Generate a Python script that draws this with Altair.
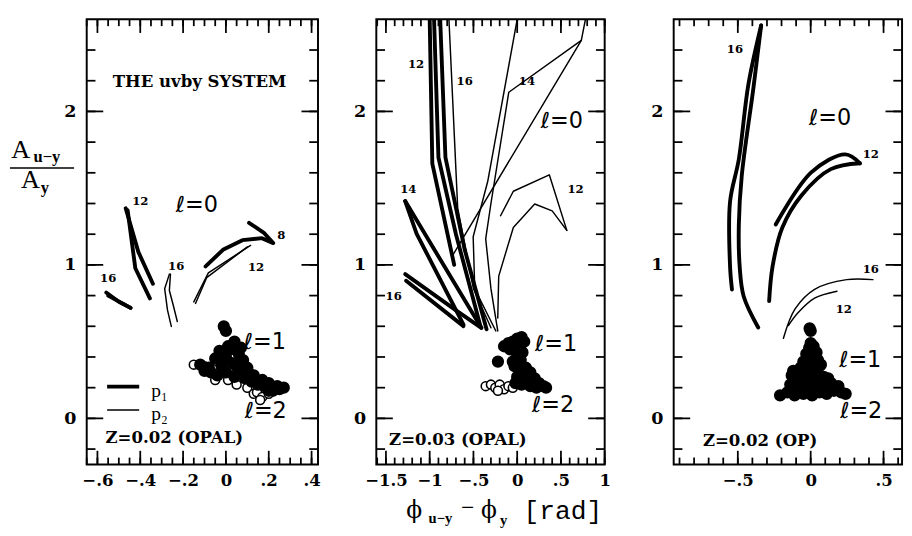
import altair as alt
import numpy as np
import pandas as pd

SERIF = "DejaVu Serif"
SANS = "DejaVu Sans"
TIMES = "Liberation Serif"
MONO = "Liberation Mono"
H = 458
TICK_COLOR = "black"

# ---------------- axis tick labels ----------------
y_labels = [0, 1, 2]
p1_xlabels = [-0.6, -0.4, -0.2, 0, 0.2, 0.4]
p2_xlabels = [-1.5, -1, -0.5, 0, 0.5, 1]
p3_xlabels = [-0.5, 0, 0.5]

# ---------------- panel 1 : Z=0.02 (OPAL) ----------------
p1_curves = {
    "a12": ("p1", [-0.468, -0.409, -0.341], [1.369, 1.085, 0.877]),
    "b12": ("p1", [-0.459, -0.423, -0.355], [1.356, 0.978, 0.782]),
    "c16": ("p1", [-0.559, -0.50, -0.445], [0.82, 0.76, 0.72]),
    "d16": ("p1", [-0.55, -0.445], [0.80, 0.72]),
    "e8": ("p1", [-0.095, -0.014, 0.077, 0.168, 0.221, 0.176, 0.108],
           [0.99, 1.098, 1.161, 1.174, 1.142, 1.211, 1.274]),
    "f16": ("p2", [-0.264, -0.286, -0.273, -0.255], [0.94, 0.845, 0.707, 0.599]),
    "g16": ("p2", [-0.259, -0.264, -0.245, -0.227], [0.94, 0.833, 0.732, 0.631]),
    "h12": ("p2", [0.115, -0.082, -0.15], [1.127, 0.948, 0.759]),
    "i12": ("p2", [0.10, -0.09, -0.142], [1.117, 0.917, 0.749]),
}
p1_filled_x = [-0.01, 0.00, 0.04, 0.02, -0.03, 0.06, 0.00, -0.05, 0.08, 0.03, -0.02, 0.10, 0.06,
               0.00, -0.08, -0.12, 0.13, 0.17, 0.20, 0.24, 0.27, 0.22, 0.15, 0.09, 0.04, -0.04,
               0.01, 0.05, -0.07, 0.11, 0.18, 0.25, 0.07, -0.10, 0.12, 0.20]
p1_filled_y = [0.60, 0.57, 0.50, 0.45, 0.44, 0.42, 0.40, 0.39, 0.38, 0.36, 0.34, 0.33, 0.31,
               0.30, 0.33, 0.35, 0.28, 0.25, 0.23, 0.21, 0.20, 0.18, 0.22, 0.26, 0.27, 0.28,
               0.47, 0.34, 0.30, 0.29, 0.21, 0.19, 0.46, 0.31, 0.24, 0.18]
p1_open_x = [-0.15, -0.12, -0.10, -0.06, -0.02, 0.03, -0.05, 0.01, 0.05, 0.10, 0.13, 0.145,
             0.17, 0.20, 0.24, 0.27, 0.22, 0.16]
p1_open_y = [0.35, 0.35, 0.34, 0.32, 0.30, 0.28, 0.25, 0.25, 0.22, 0.20, 0.16, 0.17,
             0.14, 0.16, 0.20, 0.20, 0.19, 0.12]
p1_nums = [("12", -0.40, 1.413), ("8", 0.259, 1.192), ("16", -0.55, 0.915),
           ("16", -0.232, 0.99), ("12", 0.141, 0.984)]
p1_ells = [("ℓ=0", -0.136, 1.388), ("ℓ=1", 0.182, 0.498), ("ℓ=2", 0.186, 0.044)]
p1_notes = [("THE uvby SYSTEM", -0.123, 2.189), ("Z=0.02 (OPAL)", -0.241, -0.132)]

# ---------------- panel 2 : Z=0.03 (OPAL) ----------------
p2_curves = {
    "k1": ("p1", [-1.0, -0.97, -0.72], [2.6, 1.66, 1.0]),
    "k2": ("p1", [-0.95, -0.90, -0.70, -0.42], [2.6, 1.70, 1.20, 0.60]),
    "k3": ("p1", [-0.88, -0.82, -0.60, -0.35], [2.6, 1.70, 1.10, 0.58]),
    "k4": ("p1", [-1.28, -1.15, -0.614], [1.416, 1.204, 0.611]),
    "k5": ("p1", [-1.28, -0.41], [1.416, 0.59]),
    "k6": ("p1", [-1.28, -0.707, -0.41], [0.94, 0.707, 0.59]),
    "k7": ("p1", [-1.27, -0.614], [0.897, 0.601]),
    "t16": ("p2", [-0.78, -0.68, -0.50, -0.30], [2.6, 1.37, 0.845, 0.59]),
    "ta": ("p2", [0.0, -0.337, -0.503, -0.485, -0.244], [2.6, 1.543, 1.183, 0.844, 0.569]),
    "tb": ("p2", [0.78, 0.733, -0.096, -0.30, -0.36, -0.30, -0.222],
           [2.6, 2.463, 2.125, 1.40, 1.17, 0.845, 0.57]),
    "tc": ("p2", [0.733, -0.744], [2.463, 1.056]),
    "tu12": ("p2", [-0.19, -0.044, 0.367, 0.567], [1.32, 1.48, 1.587, 1.225]),
    "tl12": ("p2", [-0.222, -0.211, -0.044, 0.20, 0.40, 0.567],
             [0.654, 0.927, 1.244, 1.397, 1.352, 1.225]),
}
p2_filled_x = [-0.22, -0.15, -0.10, -0.05, 0.00, 0.05, 0.08, 0.03, -0.02, -0.08, 0.06, 0.00,
               -0.05, -0.03, 0.04,
               0.10, 0.05, 0.15, 0.00, 0.10, 0.20, 0.25, 0.30, 0.05, 0.15, 0.22, -0.02, 0.33]
p2_filled_y = [0.37, 0.47, 0.49, 0.50, 0.52, 0.53, 0.50, 0.46, 0.44, 0.45, 0.43, 0.40,
               0.37, 0.34, 0.38,
               0.33, 0.30, 0.30, 0.27, 0.27, 0.26, 0.23, 0.21, 0.22, 0.21, 0.20, 0.23, 0.20]
p2_open_x = [-0.36, -0.30, -0.25, -0.20, -0.15, -0.10, -0.05, -0.22]
p2_open_y = [0.21, 0.22, 0.20, 0.22, 0.19, 0.21, 0.20, 0.18]
p2_nums = [("12", -1.156, 2.305), ("16", -0.60, 2.197), ("14", 0.111, 2.197),
           ("12", 0.667, 1.492), ("14", -1.244, 1.492), ("16", -1.411, 0.794)]
p2_ells = [("ℓ=0", 0.511, 1.937), ("ℓ=1", 0.444, 0.483), ("ℓ=2", 0.411, 0.083)]
p2_notes = [("Z=0.03 (OPAL)", -0.678, -0.14)]

# ---------------- panel 3 : Z=0.02 (OP) ----------------
p3_curves = {
    "a16": ("p1", [-0.34, -0.427, -0.493, -0.553, -0.553, -0.54],
            [2.56, 2.178, 1.688, 1.414, 0.987, 0.84]),
    "b16": ("p1", [-0.34, -0.393, -0.473, -0.493, -0.487, -0.46, -0.36],
            [2.56, 2.153, 1.58, 1.261, 0.987, 0.796, 0.592]),
    "u12": ("p1", [-0.24, 0.004, 0.238, 0.338], [1.263, 1.603, 1.72, 1.662]),
    "l12": ("p1", [0.338, 0.138, -0.062, -0.195, -0.262, -0.285],
            [1.662, 1.624, 1.454, 1.242, 0.987, 0.764]),
    "t16": ("p2", [0.427, 0.247, 0.027, -0.107, -0.187], [0.904, 0.904, 0.841, 0.713, 0.522]),
    "t12": ("p2", [0.18, 0.027, -0.087, -0.153], [0.828, 0.783, 0.688, 0.605]),
}
p3_filled_x = [-0.007, 0.0,
               -0.21, -0.16, -0.11, -0.05, 0.01, 0.06, 0.11, 0.16, 0.21, 0.24,
               -0.14, -0.10, -0.06, -0.01, 0.04, 0.09, 0.14, 0.19,
               -0.13, -0.09, -0.02, 0.04, 0.09, 0.12,
               -0.12, -0.07, -0.03, 0.03, 0.06,
               -0.05, 0.00, 0.05, 0.07,
               -0.03, 0.02, 0.04,
               -0.01, 0.02, 0.00]
p3_filled_y = [0.586, 0.57,
               0.15, 0.17, 0.15, 0.16, 0.15, 0.17, 0.16, 0.18, 0.17, 0.16,
               0.22, 0.20, 0.23, 0.21, 0.22, 0.20, 0.23, 0.21,
               0.28, 0.26, 0.27, 0.25, 0.27, 0.26,
               0.31, 0.33, 0.30, 0.32, 0.34,
               0.37, 0.36, 0.38, 0.35,
               0.42, 0.40, 0.43,
               0.46, 0.47, 0.49]
p3_open_x = []
p3_open_y = []
p3_nums = [("16", -0.52, 2.408), ("12", 0.413, 1.72), ("16", 0.413, 0.975), ("12", 0.227, 0.713)]
p3_ells = [("ℓ=0", 0.133, 1.955), ("ℓ=1", 0.34, 0.382), ("ℓ=2", 0.347, 0.045)]
p3_notes = [("Z=0.02 (OP)", -0.347, -0.146)]

LBL = "replace(replace(format(datum.value, '~g'), '0.', '.'), '-', '−')"


def lines_df(curves):
    rows = []
    for cid, (kind, xs, ys) in curves.items():
        for i, (x, y) in enumerate(zip(xs, ys)):
            rows.append({"cid": cid, "kind": kind, "i": i, "x": x, "y": y})
    return pd.DataFrame(rows)


def one(t):
    return pd.DataFrame({"t": [t]})


def panel(W, xdom, xlabels, xminor, xmajor, curves, interp, filled, opened,
          nums, ells, notes, extras):
    ydom = [-0.3, 2.6]

    def xs():
        return alt.Scale(domain=xdom, nice=False, zero=False)

    def ys():
        return alt.Scale(domain=ydom, nice=False, zero=False)

    xaxis = alt.Axis(values=xlabels, labelExpr=LBL, title=None, ticks=False, domain=False,
                     grid=False, labelFont=SERIF, labelFontWeight="bold", labelFontSize=17,
                     labelPadding=9, labelColor="black", labelFlush=False, labelOverlap=False)
    yaxis = alt.Axis(values=y_labels, title=None, ticks=False, domain=False, grid=False,
                     labelFont=SERIF, labelFontWeight="bold", labelFontSize=18,
                     labelPadding=11, labelColor="black", labelFlush=False)

    def X(f):
        return alt.X(f, type="quantitative", scale=xs(), axis=None)

    def Y(f):
        return alt.Y(f, type="quantitative", scale=ys(), axis=None)

    layers = []
    layers.append(
        alt.Chart(pd.DataFrame({"x": [xdom[0], xdom[1]], "y": [ydom[0], ydom[1]]}))
        .mark_point(opacity=0, size=1)
        .encode(x=alt.X("x:Q", scale=xs(), axis=xaxis), y=alt.Y("y:Q", scale=ys(), axis=yaxis))
    )
    layers.append(
        alt.Chart(lines_df(curves)).mark_line(
            color="black", clip=True, strokeCap="round", strokeJoin="round", interpolate=interp
        ).encode(
            x=X("x"), y=Y("y"),
            detail="cid:N", order="i:Q",
            strokeWidth=alt.StrokeWidth("kind:N", scale=alt.Scale(domain=["p1", "p2"], range=[4, 1.5]),
                                        legend=None),
        )
    )
    # inward ticks on all four sides
    ymin = [round(v, 2) for v in np.arange(-0.2, 2.5, 0.2)]
    for vals, L in ((xminor, 7), (xmajor, 14)):
        d = pd.DataFrame({"v": vals})
        layers.append(alt.Chart(d).mark_rule(color=TICK_COLOR, strokeWidth=1.8).encode(
            x=X("v"), y=alt.value(H), y2=alt.value(H - L)))
        layers.append(alt.Chart(d).mark_rule(color=TICK_COLOR, strokeWidth=1.8).encode(
            x=X("v"), y=alt.value(0), y2=alt.value(L)))
    for vals, L in ((ymin, 9), (y_labels, 17)):
        d = pd.DataFrame({"v": vals})
        layers.append(alt.Chart(d).mark_rule(color=TICK_COLOR, strokeWidth=1.8).encode(
            y=Y("v"), x=alt.value(0), x2=alt.value(L)))
        layers.append(alt.Chart(d).mark_rule(color=TICK_COLOR, strokeWidth=1.8).encode(
            y=Y("v"), x=alt.value(W), x2=alt.value(W - L)))
    if len(opened[0]):
        layers.append(alt.Chart(pd.DataFrame({"x": opened[0], "y": opened[1]})).mark_circle(
            fill="white", stroke="black", strokeWidth=1.6, size=85, opacity=1, fillOpacity=1
        ).encode(x=X("x"), y=Y("y")))
    layers.append(alt.Chart(pd.DataFrame({"x": filled[0], "y": filled[1]})).mark_circle(
        color="black", size=160, opacity=1
    ).encode(x=X("x"), y=Y("y")))
    layers.append(alt.Chart(pd.DataFrame(nums, columns=["t", "x", "y"])).mark_text(
        font=SERIF, fontWeight="bold", fontSize=12, color="black"
    ).encode(x=X("x"), y=Y("y"), text="t:N"))
    layers.append(alt.Chart(pd.DataFrame(ells, columns=["t", "x", "y"])).mark_text(
        font=SANS, fontSize=23, color="black"
    ).encode(x=X("x"), y=Y("y"), text="t:N"))
    layers.append(alt.Chart(pd.DataFrame(notes, columns=["t", "x", "y"])).mark_text(
        font=SERIF, fontWeight="bold", fontSize=17, color="black"
    ).encode(x=X("x"), y=Y("y"), text="t:N"))
    layers.extend(extras)
    return alt.layer(*layers).resolve_scale(x="independent", y="independent").properties(
        width=W, height=H)


def label(t, x, y, font, size, weight="normal"):
    return alt.Chart(one(t)).mark_text(font=font, fontSize=size, fontWeight=weight,
                                       color="black").encode(
        x=alt.value(x), y=alt.value(y), text="t:N")


p1_extras = [
    label("A", -68, 135, TIMES, 27),
    label("u−y", -41, 142, TIMES, 17, "bold"),
    alt.Chart(one(0)).mark_rule(color="black", strokeWidth=1.6).encode(
        x=alt.value(-79), x2=alt.value(-13), y=alt.value(153)),
    label("A", -58, 166, TIMES, 27),
    label("y", -43, 174, TIMES, 17, "bold"),
    alt.Chart(one(0)).mark_rule(color="black", strokeWidth=4).encode(
        x=alt.value(21), x2=alt.value(54), y=alt.value(378)),
    alt.Chart(one(0)).mark_rule(color="black", strokeWidth=1.5).encode(
        x=alt.value(21), x2=alt.value(54), y=alt.value(402)),
    label("p₁", 75, 383, TIMES, 20),
    label("p₂", 75, 406, TIMES, 20),
]
p2_extras = [
    label("ϕ", 39, 506, SERIF, 24),
    label("u−y", 66, 513, TIMES, 15, "bold"),
    label("−", 94, 503, TIMES, 24),
    label("ϕ", 116, 506, SERIF, 24),
    label("y", 131, 515, TIMES, 15, "bold"),
    label("[rad]", 192, 506, MONO, 27),
]


def r2(a):
    return [round(v, 3) for v in a]


p1 = panel(238, [-0.65, 0.43], p1_xlabels,
           r2(np.arange(-0.65, 0.43, 0.05)), p1_xlabels,
           p1_curves, "linear", (p1_filled_x, p1_filled_y), (p1_open_x, p1_open_y),
           p1_nums, p1_ells, p1_notes, p1_extras)
p2 = panel(235, [-1.61, 1.0], p2_xlabels,
           r2(np.arange(-1.6, 1.01, 0.1)), p2_xlabels,
           p2_curves, "linear", (p2_filled_x, p2_filled_y), (p2_open_x, p2_open_y),
           p2_nums, p2_ells, p2_notes, p2_extras)
p3 = panel(235, [-0.94, 0.627], p3_xlabels,
           r2(np.arange(-0.9, 0.61, 0.1)), p3_xlabels,
           p3_curves, "catmull-rom", (p3_filled_x, p3_filled_y), (p3_open_x, p3_open_y),
           p3_nums, p3_ells, p3_notes, [])

chart = alt.hconcat(alt.hconcat(p1, p2, spacing=31), p3, spacing=39).properties(
    padding={"left": 0, "top": 2, "right": 0, "bottom": 0}
).configure_view(stroke="black", strokeWidth=2)

chart.save("out.html", embed_options={"renderer": "svg", "actions": False})
